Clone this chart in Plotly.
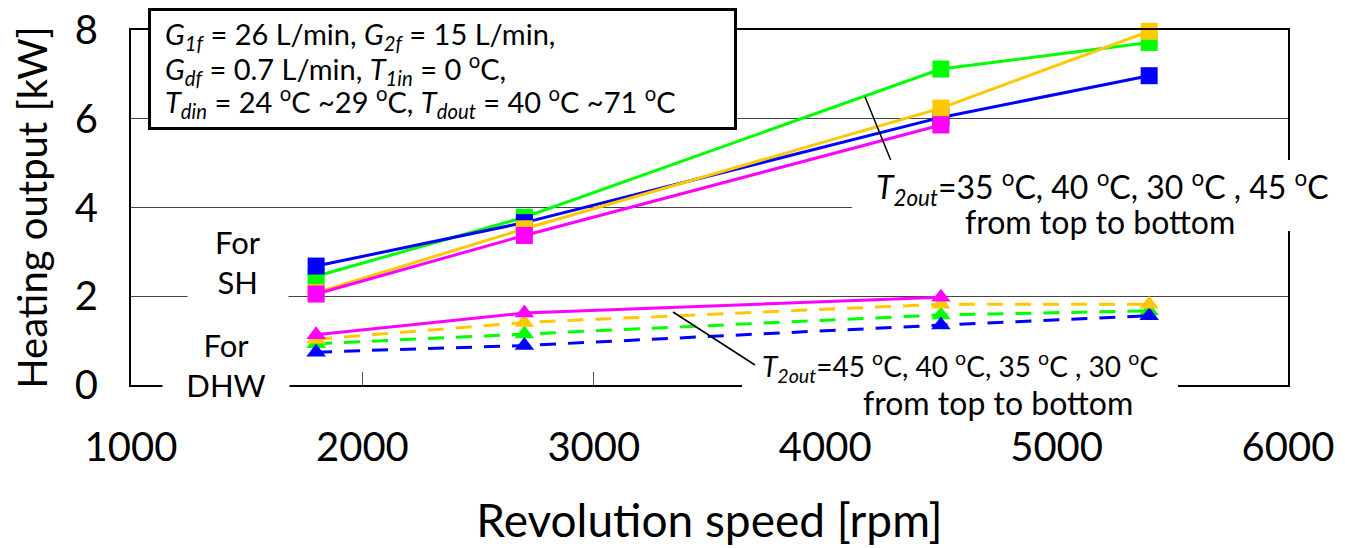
import plotly.graph_objects as go

# ---------------- data ----------------
rpm = [1800, 2700, 4500, 5400]
rpm_pink = [1800, 2700, 4500]

# Space heating (SH), squares, solid lines
sh_green = [2.45, 3.78, 7.12, 7.72]
sh_blue = [2.68, 3.66, 6.03, 6.97]
sh_yellow = [2.08, 3.52, 6.24, 7.97]
sh_pink = [2.05, 3.37, 5.86]

# Domestic hot water (DHW), triangles, dashed lines (pink solid)
dhw_green = [0.93, 1.15, 1.58, 1.67]
dhw_blue = [0.74, 0.89, 1.35, 1.56]
dhw_yellow = [1.03, 1.41, 1.82, 1.82]
dhw_pink = [1.13, 1.62, 1.98]

x_ticks = [1000, 2000, 3000, 4000, 5000, 6000]
y_ticks = [0, 2, 4, 6, 8]

BLUE = "#0000FF"
GREEN = "#00FF00"
YELLOW = "#FFC800"
PINK = "#FF00FF"
FONT = "Lato"

fig = go.Figure()

def add(x, y, color, symbol, dash):
    fig.add_trace(go.Scatter(
        x=x, y=y, mode="lines+markers",
        line=dict(color=color, width=3, dash=dash),
        marker=dict(symbol=symbol, size=17, color=color, line=dict(width=0)),
        showlegend=False, cliponaxis=False))

# DHW
add(rpm, dhw_green, GREEN, "triangle-up", "16px,12px")
add(rpm, dhw_blue, BLUE, "triangle-up", "16px,12px")
add(rpm, dhw_yellow, YELLOW, "triangle-up", "16px,12px")
add(rpm_pink, dhw_pink, PINK, "triangle-up", "solid")
# SH
add(rpm, sh_green, GREEN, "square", "solid")
add(rpm, sh_blue, BLUE, "square", "solid")
add(rpm, sh_yellow, YELLOW, "square", "solid")
add(rpm_pink, sh_pink, PINK, "square", "solid")

# page has an 8px body margin; plot area wanted at page x 131..1288, y 30..385
OFF = 8
W, H = 1345 - OFF, 548 - OFF
PL, PR, PT, PB = 131, 1288, 30, 385
L = PL - OFF
T = PT - OFF
R = W + OFF - PR
B = H + OFF - PB

def px(xp):
    return (xp - PL) / (PR - PL)

def py(yp):
    return (PB - yp) / (PB - PT)

oc = "<sup>o</sup>C"

def txt(x, y, text, size, xanchor="center", **kw):
    d = dict(xref="paper", yref="paper", x=px(x), y=py(y), xanchor=xanchor, yanchor="middle",
             text=text, showarrow=False, font=dict(size=size, color="black", family=FONT))
    d.update(kw)
    return d

annotations = [
    # condition box lines
    txt(163, 36, "<i>G</i><sub><i>1f</i></sub> = 26 L/min, <i>G</i><sub><i>2f</i></sub> = 15 L/min,", 29, "left"),
    txt(163, 69, "<i>G</i><sub><i>df</i></sub> = 0.7 L/min, <i>T</i><sub><i>1in</i></sub> = 0 " + oc + ",", 29, "left"),
    txt(163, 102, "<i>T</i><sub><i>din</i></sub> = 24 " + oc + " ~29 " + oc + ", <i>T</i><sub><i>dout</i></sub> = 40 " + oc + " ~71 " + oc, 29, "left"),
    # SH callout
    txt(1102, 187, "<i>T</i><sub><i>2out</i></sub>=35 " + oc + ", 40 " + oc + ", 30 " + oc + " , 45 " + oc, 32),
    txt(1100, 222, "from top to bottom", 32),
    # DHW callout
    txt(960, 366, "<i>T</i><sub><i>2out</i></sub>=45 " + oc + ", 40 " + oc + ", 35 " + oc + " , 30 " + oc, 28),
    txt(998, 402, "from top to bottom", 32),
    # group labels
    txt(238, 262, "For<br>SH", 31, align="center", bgcolor="white", borderpad=0, width=100, height=76),
    txt(226, 365, "For<br>DHW", 31, align="center", bgcolor="white", borderpad=0, width=126, height=76),
]

def rect(x0, y0, x1, y1, lw=0):
    return dict(type="rect", xref="paper", yref="paper", x0=px(x0), y0=py(y0), x1=px(x1), y1=py(y1),
                fillcolor="white", line=dict(color="black", width=lw), layer="above")

shapes = [
    rect(149.5, 9.5, 735.5, 128.5, lw=3),
    rect(852, 160, 1345, 231),
    rect(742, 346, 1178, 392),
    dict(type="line", xref="paper", yref="paper", x0=px(865), y0=py(96.7), x1=px(890.7), y1=py(160),
         line=dict(color="black", width=1.5), layer="above"),
    dict(type="line", xref="paper", yref="paper", x0=px(673), y0=py(312), x1=px(755), y1=py(365),
         line=dict(color="black", width=1.5), layer="above"),
]

fig.update_layout(
    width=W, height=H,
    margin=dict(l=L, r=R, t=T, b=B, autoexpand=False),
    paper_bgcolor="white", plot_bgcolor="white",
    font=dict(family=FONT, color="black"),
    annotations=annotations, shapes=shapes,
    xaxis=dict(range=[1000, 6000], tickvals=x_ticks, ticktext=[str(v) for v in x_ticks],
               showgrid=False, zeroline=False, showline=True, linecolor="black", linewidth=2,
               mirror=True, ticks="inside", ticklen=13, tickcolor="#555", tickwidth=1,
               ticklabelstandoff=26, ticklabeloverflow="allow", tickfont=dict(size=40, color="black"),
               title=dict(text="Revolution speed [rpm]", font=dict(size=46, color="black"), standoff=36)),
    yaxis=dict(range=[0, 8], tickvals=y_ticks, ticktext=[str(v) for v in y_ticks],
               showgrid=True, gridcolor="#444", gridwidth=1, zeroline=False,
               showline=True, linecolor="black", linewidth=2, mirror=True, ticks="",
               ticklabelstandoff=23, ticklabeloverflow="allow", tickfont=dict(size=40, color="black"),
               title=dict(text="Heating output [kW]", font=dict(size=40, color="black"), standoff=18)),
)

fig.write_html("out.html")
